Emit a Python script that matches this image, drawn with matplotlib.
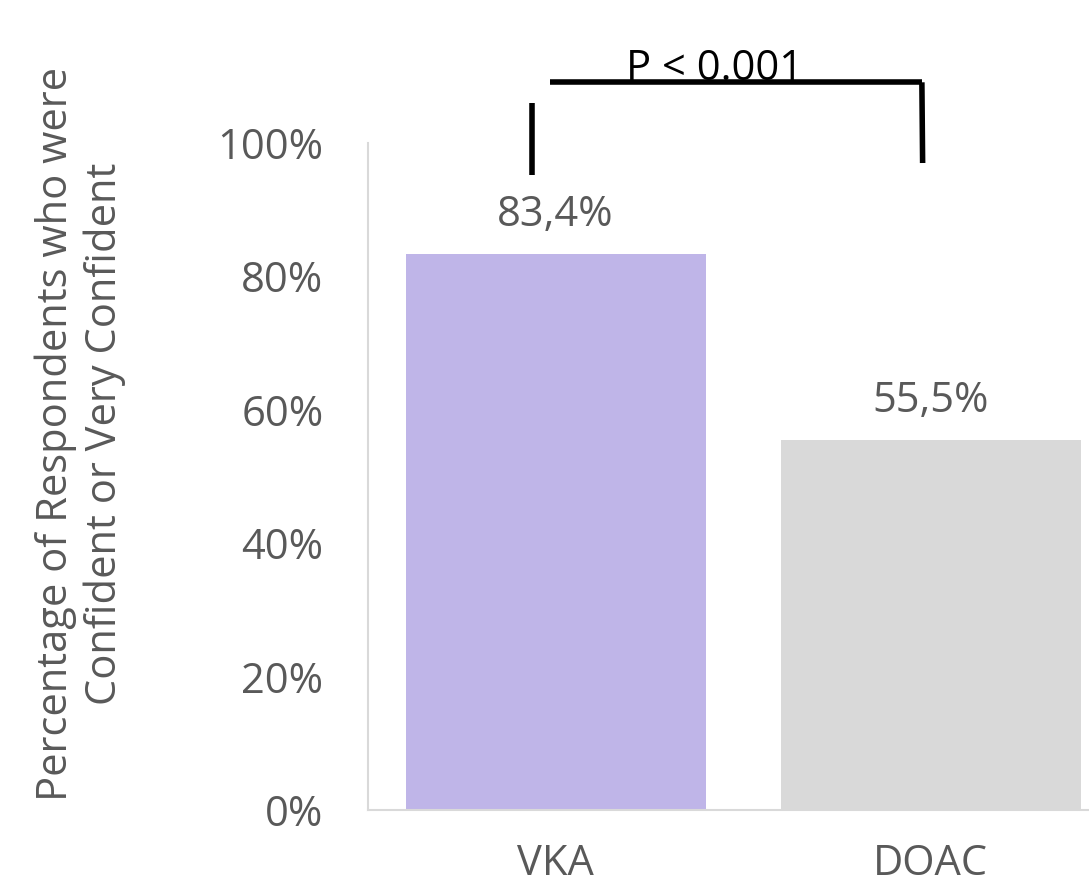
import matplotlib
matplotlib.use("Agg")
import matplotlib.pyplot as plt
from matplotlib.ticker import FuncFormatter

categories = ["VKA", "DOAC"]
values = [0.834, 0.555]
value_labels = ["83,4%", "55,5%"]
bar_colors = ["#BFB5E8", "#D9D9D9"]
yticks = [0, 0.2, 0.4, 0.6, 0.8, 1.0]
p_text = "P < 0.001"
ylabel = "Percentage of Respondents who were\nConfident or Very Confident"

plt.rcParams['font.family'] = ['Open Sans', 'DejaVu Sans']
txt = "#595959"
FS = 30

fig = plt.figure(figsize=(10.89, 8.91), dpi=100)
W, H = 1089, 891
left, right, top, bottom = 368, 1118, 143, 810
ax = fig.add_axes([left / W, (H - bottom) / H, (right - left) / W, (bottom - top) / H])

x = list(range(len(categories)))
ax.bar(x, values, width=0.8, color=bar_colors, zorder=2)
ax.set_xlim(-0.5, 1.5)
ax.set_ylim(0, 1.0)
ax.set_yticks(yticks)
ax.yaxis.set_major_formatter(FuncFormatter(lambda v, p: f"{v*100:.0f}%"))
ax.set_xticks(x)
ax.set_xticklabels(categories)
ax.tick_params(axis='both', length=0, labelsize=FS, labelcolor=txt)
ax.tick_params(axis='x', pad=24)
ax.tick_params(axis='y', pad=32)
for s in ['top', 'right']:
    ax.spines[s].set_visible(False)
for s in ['left', 'bottom']:
    ax.spines[s].set_color('#D9D9D9')
    ax.spines[s].set_linewidth(1.5)

for xi, v, lab in zip(x, values, value_labels):
    ax.text(xi, v + 0.027, lab, ha='center', va='bottom', fontsize=FS, color=txt)

# significance bracket
kw = dict(color='black', lw=4, solid_capstyle='butt', clip_on=False, zorder=5)
ax.plot([-0.063, -0.063], [0.952, 1.06], **kw)
ax.plot([-0.015, 0.977], [1.091, 1.091], **kw)
ax.plot([0.977, 0.979], [1.091, 0.970], **kw)
ax.text(0.423, 1.080, p_text, ha='center', va='bottom', fontsize=FS, color='black', clip_on=False)

fig.text(80 / W, (H - 434) / H, ylabel, rotation=90, ha='center', va='center',
         fontsize=FS, color=txt, linespacing=1.2)

fig.savefig("out.png", dpi=100)
